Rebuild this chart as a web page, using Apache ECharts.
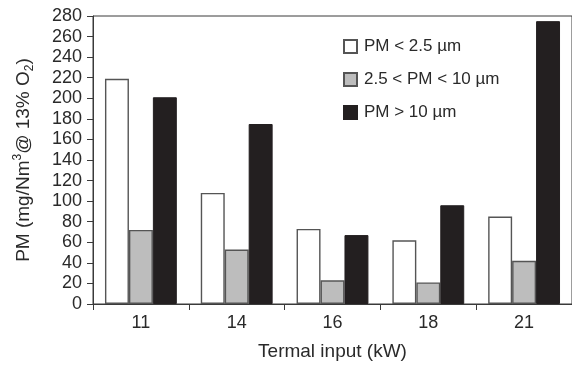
<!DOCTYPE html>
<html>
<head>
<meta charset="utf-8">
<script src="https://cdn.jsdelivr.net/npm/echarts@6/dist/echarts.min.js"></script>
<style>html,body{margin:0;padding:0;background:#fff;}#c{width:572px;height:369px;}</style>
</head>
<body>
<div id="c"></div>
<script>
var categories = ['11', '14', '16', '18', '21'];
var seriesNames = ['PM < 2.5 \u00b5m', '2.5 < PM < 10 \u00b5m', 'PM > 10 \u00b5m'];
var pmFine = [219, 108, 73, 62, 85];
var pmCoarse = [72, 53, 23, 21, 42];
var pmLarge = [201, 175, 67, 96, 275];
var yTicks = [0, 280, 20];

var FONT = '"Liberation Sans", Arial, sans-serif';
var TXT = '#2a2a2a';
var chart = echarts.init(document.getElementById('c'), null, {renderer: 'canvas'});
chart.setOption({
  animation: false,
  backgroundColor: '#fff',
  textStyle: {fontFamily: FONT},
  grid: {left: 93, top: 16, bottom: 65, right: -8.5, show: true, borderColor: '#3a3a3a', borderWidth: 1, backgroundColor: 'transparent'},
  legend: {
    orient: 'vertical', left: 343, top: 38, padding: 0,
    itemWidth: 13, itemHeight: 13, itemGap: 16, icon: 'rect',
    textStyle: {fontFamily: FONT, fontSize: 17, color: TXT, padding: [0, 0, 0, 2]},
    data: seriesNames
  },
  xAxis: {
    type: 'category', data: categories,
    axisLine: {lineStyle: {color: '#3a3a3a', width: 1}},
    axisTick: {show: true, length: 6, inside: false, lineStyle: {color: '#3a3a3a'}},
    axisLabel: {fontFamily: FONT, fontSize: 18, color: TXT, margin: 10},
    name: 'Termal input (kW)', nameLocation: 'middle', nameGap: 38,
    nameTextStyle: {fontFamily: FONT, fontSize: 19, color: TXT}
  },
  yAxis: {
    type: 'value', min: yTicks[0], max: yTicks[1], interval: yTicks[2],
    splitLine: {show: false},
    axisLine: {show: true, lineStyle: {color: '#3a3a3a', width: 1}},
    axisTick: {show: true, length: 6, lineStyle: {color: '#3a3a3a'}},
    axisLabel: {fontFamily: FONT, fontSize: 18, color: TXT, margin: 11},
    name: '{a|PM (mg/Nm}{s|3}{a|@ 13% O}{b|2}{a|)}', nameLocation: 'middle', nameGap: 57, nameRotate: 90,
    nameTextStyle: {
      fontFamily: FONT, fontSize: 19, color: TXT,
      rich: {
        a: {fontFamily: FONT, fontSize: 19, color: TXT, lineHeight: 24},
        s: {fontFamily: FONT, fontSize: 12, color: TXT, verticalAlign: 'top', lineHeight: 24, padding: [0, 0, 10, 0]},
        b: {fontFamily: FONT, fontSize: 12, color: TXT, verticalAlign: 'bottom', lineHeight: 24, padding: [8, 0, 0, 0]}
      }
    }
  },
  series: [
    {name: seriesNames[0], type: 'bar', data: pmFine, barGap: '0%', barCategoryGap: '25%',
     itemStyle: {color: '#ffffff', borderColor: '#555', borderWidth: 1.4}},
    {name: seriesNames[1], type: 'bar', data: pmCoarse,
     itemStyle: {color: '#bdbdbd', borderColor: '#555', borderWidth: 1.4}},
    {name: seriesNames[2], type: 'bar', data: pmLarge,
     itemStyle: {color: '#231f20', borderColor: '#231f20', borderWidth: 1}}
  ]
});
</script>
</body>
</html>
